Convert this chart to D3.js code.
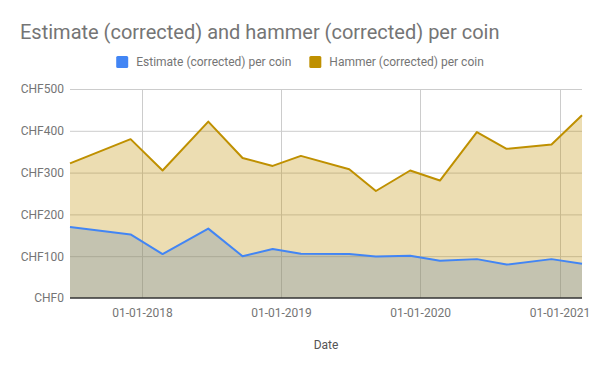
<!DOCTYPE html>
<html>
<head>
<meta charset="utf-8">
<script src="https://cdn.jsdelivr.net/npm/d3@7"></script>
<style>
  body { margin: 0; background: #fff; }
  text { font-family: Roboto, "Noto Sans", sans-serif; }
</style>
</head>
<body>
<svg id="chart" width="600" height="371"></svg>
<script>
// values
var dates = ["2017-06-26", "2017-12-02", "2018-02-24", "2018-06-24", "2018-09-22",
             "2018-12-10", "2019-02-22", "2019-06-29", "2019-09-07", "2019-12-06",
             "2020-02-22", "2020-05-29", "2020-08-15", "2020-12-11", "2021-03-01"];
var estimate = [170, 152, 105, 166, 100, 117, 106, 105, 99, 101, 89, 93, 80, 93, 82];
var hammer = [322, 380, 305, 422, 335, 316, 340, 308, 256, 305, 281, 397, 357, 367, 437];
var xTicks = ["2018-01-01", "2019-01-01", "2020-01-01", "2021-01-01"];
var yTicks = [0, 100, 200, 300, 400, 500];
var seriesNames = ["Estimate (corrected) per coin", "Hammer (corrected) per coin"];
var seriesColors = ["#4285f4", "#bf9000"];

var parse = d3.timeParse("%Y-%m-%d");
var fmt = d3.timeFormat("%d-%m-%Y");

var rows = dates.map(function(d, i) {
  return {date: parse(d), estimate: estimate[i], hammer: hammer[i]};
});

var svg = d3.select("#chart");
var width = +svg.attr("width");
var margin = {top: 89, right: 18, bottom: 73, left: 70};
var w = width - margin.left - margin.right;
var h = +svg.attr("height") - margin.top - margin.bottom;

var x = d3.scaleTime()
  .domain(d3.extent(rows, (d) => d.date))
  .range([0, w]);
var y = d3.scaleLinear().domain([0, 500]).range([h, 0]);

var g = svg.append("g").attr("transform", "translate(" + margin.left + "," + margin.top + ")");

// grid
g.selectAll(".hgrid")
  .data(yTicks.filter((t) => t > 0))
  .enter().append("line")
    .attr("x1", 0).attr("x2", w)
    .attr("y1", (d) => y(d) + 0.5).attr("y2", (d) => y(d) + 0.5)
    .attr("stroke", "#cccccc");
g.selectAll(".vgrid")
  .data(xTicks.map(parse))
  .enter().append("line")
    .attr("x1", (d) => Math.round(x(d)) + 0.5).attr("x2", (d) => Math.round(x(d)) + 0.5)
    .attr("y1", 0).attr("y2", h)
    .attr("stroke", "#cccccc");

// areas
var keys = ["estimate", "hammer"];
keys.forEach(function(k, i) {
  var area = d3.area().x((d) => x(d.date)).y0(h).y1((d) => y(d[k]));
  g.append("path")
    .datum(rows)
    .attr("d", area)
    .attr("fill", seriesColors[i])
    .attr("fill-opacity", 0.3);
});
keys.forEach(function(k, i) {
  var line = d3.line().x((d) => x(d.date)).y((d) => y(d[k]));
  g.append("path")
    .datum(rows)
    .attr("d", line)
    .attr("fill", "none")
    .attr("stroke", seriesColors[i])
    .attr("stroke-width", 2)
    .attr("stroke-linejoin", "round");
});

// axes
var yAxis = d3.axisLeft(y).tickValues(yTicks).tickSize(0).tickPadding(6)
  .tickFormat((d) => "CHF" + d);
g.append("g").call(yAxis)
  .call((s) => s.select(".domain").remove())
  .selectAll("text")
    .attr("font-size", 12).attr("fill", "#757575");

var xAxis = d3.axisBottom(x).tickValues(xTicks.map(parse)).tickSize(0).tickPadding(10)
  .tickFormat(fmt);
g.append("g").attr("transform", "translate(0," + h + ")").call(xAxis)
  .call((s) => s.select(".domain").remove())
  .selectAll("text")
    .attr("font-size", 12).attr("fill", "#757575");

g.append("line")
  .attr("x1", 0).attr("x2", w)
  .attr("y1", h).attr("y2", h)
  .attr("stroke", "#333333").attr("stroke-width", 1.5);

svg.append("text")
  .attr("x", margin.left + w / 2).attr("y", 349)
  .attr("text-anchor", "middle")
  .attr("font-size", 12).attr("fill", "#555555")
  .text("Date");

// title
svg.append("text")
  .attr("x", 20).attr("y", 39)
  .attr("font-size", 20).attr("fill", "#757575")
  .text("Estimate (corrected) and hammer (corrected) per coin");

// legend, centred
var legend = svg.append("g");
var lx = 0;
seriesNames.forEach(function(name, i) {
  var item = legend.append("g").attr("transform", "translate(" + lx + ",0)");
  item.append("rect")
    .attr("x", 0).attr("y", 56).attr("width", 12).attr("height", 12)
    .attr("rx", 1.5)
    .attr("fill", seriesColors[i]);
  var t = item.append("text")
    .attr("x", 20).attr("y", 66)
    .attr("font-size", 12).attr("fill", "#757575")
    .text(name);
  lx += 20 + t.node().getComputedTextLength() + 18;
});
lx -= 18;
legend.attr("transform", "translate(" + ((width - lx) / 2) + ",0)");
</script>
</body>
</html>
